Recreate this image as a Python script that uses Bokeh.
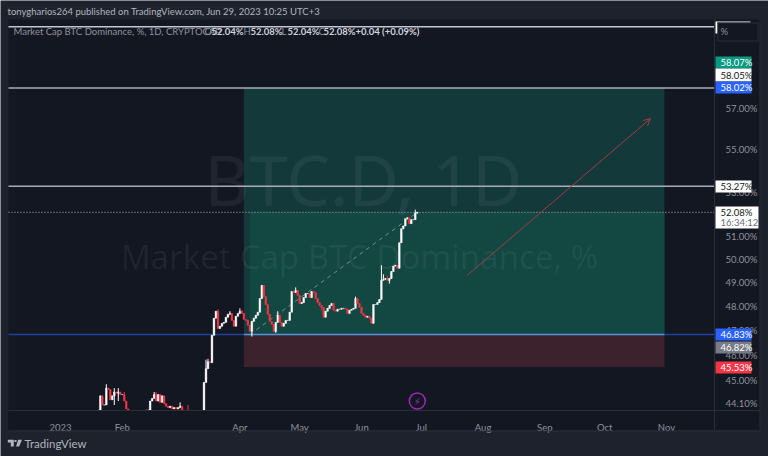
import pandas as pd
from bokeh.core.properties import value
from bokeh.embed import file_html
from bokeh.models import (Arrow, BoxAnnotation, ColumnDataSource, FixedTicker, Label,
                          OpenHead, PolyAnnotation, Range1d)
from bokeh.plotting import figure
from bokeh.resources import INLINE

FONT = "Lato"
PANE = "#131722"
OUTER = "#1e222d"
EDGE = "#2a2e39"
UP = "#ffffff"
DOWN = "#f23645"

first_open = 43.80
closes = [
    43.85, 44.40, 44.05, 44.05, 44.70, 44.65, 44.25, 44.40, 44.55, 44.50,
    44.55, 44.45, 44.45, 44.20, 43.90, 43.70, 43.60, 43.50, 43.55, 43.40,
    43.50, 43.60, 43.60, 43.70, 43.85, 43.85, 44.20, 44.30, 44.45, 44.20,
    44.45, 44.15, 44.40, 44.10, 44.00, 43.95, 44.00, 43.90, 43.95, 43.90,
    43.95, 44.00, 43.85, 43.80, 43.75, 43.70, 43.60, 43.50, 43.55, 43.50,
    43.45, 43.50, 43.50, 44.92, 45.46, 45.74, 45.70, 46.80, 47.50, 47.79,
    47.08, 47.17, 47.29, 47.33, 47.54, 47.66, 47.70, 47.41, 47.17, 47.58,
    47.70, 47.79, 47.70, 47.45, 47.41, 47.21, 46.96, 47.37, 47.50, 47.62,
    47.75, 48.32, 48.87, 48.40, 48.07, 47.66, 47.37, 47.25, 46.96, 47.33,
    47.62, 47.33, 47.17, 47.29, 47.41, 47.41, 47.75, 48.62, 48.57, 48.66,
    48.45, 48.11, 48.15, 48.36, 48.53, 48.53, 48.36, 48.62, 48.57, 48.32,
    48.15, 48.03, 47.95, 47.54, 47.79, 47.91, 48.03, 48.11, 47.83, 47.79,
    47.87, 47.87, 47.91, 47.91, 47.87, 47.70, 47.83, 47.87, 47.91, 48.32,
    48.11, 47.95, 47.70, 47.62, 47.54, 47.58, 47.50, 47.29, 48.07, 48.07,
    48.15, 48.28, 49.09, 49.13, 49.17, 49.09, 49.17, 49.47, 49.70, 49.74,
    49.61, 50.72, 51.34, 51.47, 51.79, 51.84, 51.57, 51.75, 51.75, 52.04, 52.08,
]
dates = pd.date_range("2023-01-20", "2023-06-29")

# only the days with a visible wick
wick_highs = {
    "2023-01-24": 44.85, "2023-01-28": 44.70, "2023-01-30": 44.70, "2023-02-02": 44.55,
    "2023-02-17": 44.55, "2023-02-18": 44.55, "2023-03-02": 44.15, "2023-03-06": 44.05,
    "2023-03-15": 45.82, "2023-03-16": 45.85, "2023-03-21": 47.87, "2023-03-27": 47.79,
    "2023-04-01": 47.91, "2023-04-02": 47.83, "2023-04-12": 48.90, "2023-04-20": 47.79,
    "2023-04-29": 48.79, "2023-05-29": 48.40, "2023-06-11": 49.74, "2023-06-12": 49.35,
    "2023-06-14": 49.26, "2023-06-28": 52.20,
}
wick_lows = {
    "2023-01-28": 44.05, "2023-01-30": 44.20, "2023-04-07": 46.75, "2023-04-19": 46.90,
    "2023-05-12": 47.85, "2023-06-15": 48.95,
}

price_ticks = [57, 55, 53, 51, 50, 49, 48, 47, 46, 45, 44.1]
month_ticks = ["2023-01-01", "2023-02-01", "2023-04-01", "2023-05-01", "2023-06-01",
               "2023-07-01", "2023-08-01", "2023-09-01", "2023-10-01", "2023-11-01"]
month_labels = ["2023", "Feb", "Apr", "May", "Jun", "Jul", "Aug", "Sep", "Oct", "Nov"]

entry_price = 46.83
target_price = 58.02
stop_price = 45.53
last_price = 52.08
resistance = 53.27
top_line = 61.2
pane_bottom = 43.82
axis_bottom = 43.1

box_start = pd.Timestamp("2023-04-03")
fill_start = pd.Timestamp("2023-04-06")
box_end = pd.Timestamp("2023-10-31")
arrow_from = (pd.Timestamp("2023-07-24"), 49.3)
arrow_to = (pd.Timestamp("2023-10-24"), 56.5)

# the frame fills the whole canvas, the axes sit inside it
x_start = pd.Timestamp("2022-12-01 21:36")
x_end = pd.Timestamp("2023-12-22 05:00")
pane_left = pd.Timestamp("2022-12-05 21:50")
scale_at = pd.Timestamp("2023-11-25 03:36")
y_start = 42.12
y_end = 62.61

opens = [first_open] + closes[:-1]
days = [d.strftime("%Y-%m-%d") for d in dates]
highs = [wick_highs.get(d, max(o, c)) for d, o, c in zip(days, opens, closes)]
lows = [wick_lows.get(d, min(o, c)) for d, o, c in zip(days, opens, closes)]
colors = [UP if c >= o else DOWN for o, c in zip(opens, closes)]
source = ColumnDataSource(dict(date=dates, open=opens, close=closes, high=highs, low=lows, color=colors))

p = figure(width=768, height=456, output_backend="svg", toolbar_location=None,
           x_axis_type="datetime", y_axis_type="log", y_axis_location="right",
           x_range=Range1d(x_start, x_end), y_range=Range1d(y_start, y_end),
           min_border=0)
p.background_fill_color = OUTER
p.border_fill_color = OUTER
p.outline_line_color = None
p.grid.visible = False


def ms(t):
    return t.value / 1e6


p.yaxis.ticker = FixedTicker(ticks=price_ticks)
p.yaxis.major_label_overrides = {t: "%.2f%%" % t for t in price_ticks}
p.yaxis.fixed_location = ms(scale_at)
p.yaxis.bounds = (axis_bottom, 61.59)
p.xaxis.ticker = FixedTicker(ticks=[ms(pd.Timestamp(m)) for m in month_ticks])
p.xaxis.major_label_overrides = {ms(pd.Timestamp(m)): l for m, l in zip(month_ticks, month_labels)}
p.xaxis.fixed_location = pane_bottom
p.xaxis.bounds = (ms(pane_left), ms(pd.Timestamp("2023-12-18 05:00")))
for axis in (p.xaxis[0], p.yaxis[0]):
    axis.axis_line_color = EDGE
    axis.major_tick_line_color = None
    axis.minor_tick_line_color = None
    axis.major_label_text_color = "#8f929b"
    axis.major_label_text_font = FONT
    axis.major_label_text_font_size = "9.5px"
p.yaxis.major_label_standoff = 5
p.xaxis.major_label_standoff = 5


def canvas_box(left, right, top, bottom, color, level="annotation"):
    p.add_layout(BoxAnnotation(left=left, right=right, top=top, bottom=bottom, left_units="canvas",
                               right_units="canvas", top_units="canvas", bottom_units="canvas",
                               fill_color=color, fill_alpha=1, line_alpha=0, level=level))


canvas_box(8, 760, 19, 430, PANE, "underlay")

# position tool zones
p.quad(left=[box_start], right=[box_end], bottom=[entry_price], top=[target_price], color="#13393a", line_width=0)
p.quad(left=[fill_start], right=[box_end], bottom=[entry_price], top=[last_price], color="#124742", line_width=0)
p.quad(left=[box_start], right=[box_end], bottom=[stop_price], top=[entry_price], color="#3c222d", line_width=0)

# watermark
p.text([pd.Timestamp("2023-06-02")], [53.6], text=["BTC.D, 1D"], text_align="center", text_baseline="middle",
       text_color="#ffffff", text_alpha=0.06, text_font=value("Noto Sans"), text_font_size="69px")
p.text([pd.Timestamp("2023-05-31")], [50.13], text=["Market Cap BTC Dominance, %"], text_align="center",
       text_baseline="middle", text_color="#ffffff", text_alpha=0.06, text_font=value("Noto Sans"), text_font_size="33px")

p.line([fill_start, dates[-1]], [entry_price, last_price], line_color="#7d8a8c", line_dash="4 4", line_width=1)


def level_line(price, color, width=1.5, dash="solid"):
    p.segment([pane_left], [price], [scale_at], [price], line_color=color, line_width=width, line_dash=dash)


level_line(top_line, "#c4c7d0")
level_line(target_price, "#a9acb5")
level_line(resistance, "#a9acb5")
level_line(last_price, "#b2b5be", 1, "1 2")
level_line(entry_price, "#1f419e")
p.line([box_start, box_end], [entry_price, entry_price], line_color="#5a93c8", line_width=1.5)

# candles
p.segment("date", "low", "date", "high", color="color", line_width=1, source=source)
p.vbar("date", width=0.8 * 86400000, bottom="open", top="close", color="color", line_width=0.5, source=source)

# the part of the candles under the pane stays hidden
p.quad(left=[pane_left], right=[scale_at], bottom=[axis_bottom], top=[pane_bottom], color=PANE, line_width=0)

p.add_layout(Arrow(end=OpenHead(size=7, line_color="#a33b45", line_width=1), line_color="#a33b45", line_width=1,
                   x_start=arrow_from[0], y_start=arrow_from[1], x_end=arrow_to[0], y_end=arrow_to[1]))

# publish marker
p.scatter([dates[-1]], [44.2], size=16, fill_color=None, line_color="#9c27b0", line_width=1.5)
p.text([dates[-1]], [44.2], text=["\u26a1"], text_align="center", text_baseline="middle", text_color="#9c27b0",
       text_font=value("DejaVu Sans"), text_font_size="10px")

# pane edges
canvas_box(8, 760, 430, 431, EDGE)
canvas_box(759, 760, 19, 431, EDGE)
canvas_box(715, 750, 21, 33, "#ffffff")
canvas_box(717, 758, 22, 41, PANE)
canvas_box(717, 758, 22, 23, EDGE)
canvas_box(717, 758, 40, 41, EDGE)
canvas_box(717, 718, 22, 41, EDGE)
canvas_box(757, 758, 22, 41, EDGE)


def text_at(text, x, y, color, size="9.5px", weight="normal"):
    p.add_layout(Label(x=x_start, y=y_end, x_offset=x, y_offset=-y, text=text, text_color=color,
                       text_font=FONT, text_font_size=size, text_baseline="middle", text_font_style=weight))


def tag(text, top, bottom, fill, color="#ffffff", right=751):
    canvas_box(715, right, top, bottom, fill)
    text_at(text, 720, (top + bottom) / 2, color, "9.5px")


tag("58.07%", 56, 68, "#089981")
tag("58.05%", 68, 81, "#ffffff", "#131722")
tag("58.02%", 81, 93, "#2962ff")
tag("53.27%", 180, 192, "#ffffff", "#131722")
canvas_box(715, 758, 206, 228, "#ffffff")
text_at("52.08%", 720, 212, "#131722", "9.5px")
text_at("16:34:12", 720, 222, "#6a6d78", "9.5px")
tag("46.83%", 328, 340, "#2962ff")
tag("46.82%", 341, 353, "#787b86")
tag("45.53%", 361, 373, "#f23645")

text_at("tonygharios264 published on TradingView.com, Jun 29, 2023 10:25 UTC+3", 7, 11, "#b2b5be", "9.5px")
text_at("Market Cap BTC Dominance, %, 1D, CRYPTOCAP", 13, 31, "#8f929b", "9.5px")
for x, letter in [(204, "O"), (243, "H"), (281, "L"), (318, "C")]:
    text_at(letter, x, 31, "#8f929b", "9.5px")
for x, val in [(211, "52.04%"), (250, "52.08%"), (287, "52.04%"), (323, "52.08%"), (355, "+0.04 (+0.09%)")]:
    text_at(val, x, 31, "#d1d4dc", "9.5px", "bold")
text_at("%", 720, 31, "#8f929b", "9.5px")
text_at("TradingView", 24, 443, "#b2b5be", "11.5px")

# TradingView logo
for xs, ys in [([7.3, 13.3, 13.3, 10.3, 10.3, 7.3], [439.3, 439.3, 446, 446, 442, 442]),
               ([17.6, 21.5, 18.6, 15.6], [439.3, 439.3, 446, 446]),
               ([14, 16, 16, 14], [439.5, 439.5, 441.5, 441.5])]:
    p.add_layout(PolyAnnotation(xs=xs, ys=ys, xs_units="canvas", ys_units="canvas",
                                fill_color="#b2b5be", fill_alpha=1, line_alpha=0))

open("out.html", "w").write(file_html(p, INLINE))
